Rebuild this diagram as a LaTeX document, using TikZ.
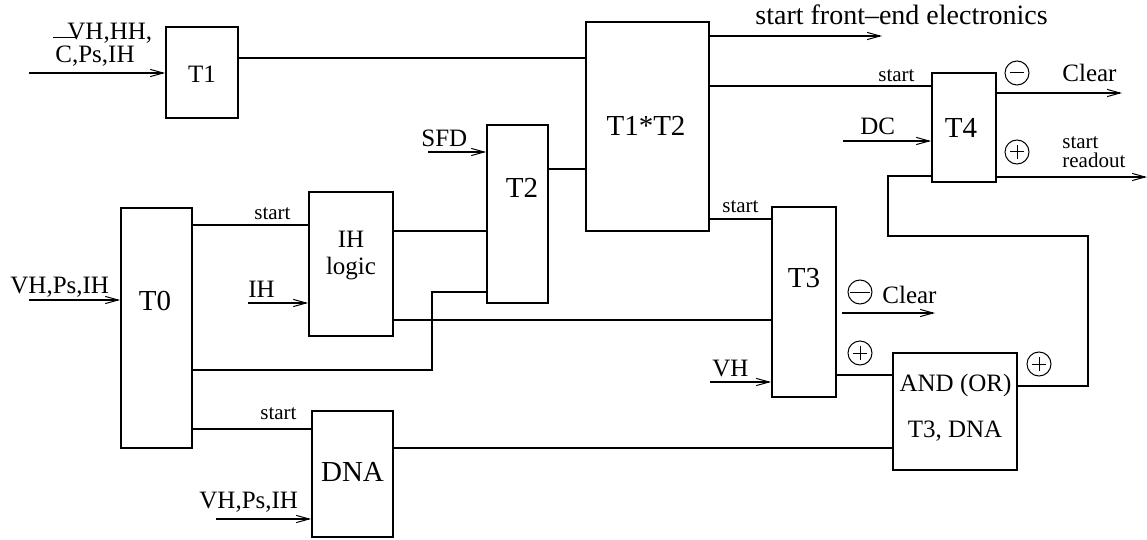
\documentclass[tikz,border=0pt]{standalone}
\usepackage{fontspec}
\setmainfont{Liberation Serif}
\usetikzlibrary{arrows.meta,calc}
\tikzset{
  box/.style={draw, line width=0.9pt, inner sep=0pt},
  wire/.style={line width=0.55pt},
  arr/.style={wire, -{Straight Barb[length=6.5pt,width=3.6pt,line width=0.5pt]}},
  big/.style={font=\fontsize{14.5}{16}\selectfont, inner sep=0pt, anchor=base},
  med/.style={font=\fontsize{12.5}{14}\selectfont, inner sep=0pt, anchor=base west},
  medc/.style={font=\fontsize{12.5}{14}\selectfont, inner sep=0pt, anchor=base},
  sml/.style={font=\fontsize{10.5}{12}\selectfont, inner sep=0pt, anchor=base west},
  sgn/.style={draw, circle, line width=0.5pt, minimum size=12pt, inner sep=0pt},
  minus/.style={sgn, path picture={\draw[line width=0.5pt] ([xshift=-#1]path picture bounding box.center) -- ([xshift=#1]path picture bounding box.center);}},
  plus/.style={sgn, path picture={\draw[line width=0.5pt] ([xshift=-3.6pt]path picture bounding box.center) -- ([xshift=3.6pt]path picture bounding box.center) ([yshift=-3.6pt]path picture bounding box.center) -- ([yshift=3.6pt]path picture bounding box.center);}}
}
\begin{document}
\begin{tikzpicture}[x=0.5pt,y=-0.5pt]
\useasboundingbox (0,0) rectangle (1147,540);
% boxes
\node[box, minimum width=36pt, minimum height=45.5pt] (t1) at (202,72.5) {};
\node[box, minimum width=61.5pt, minimum height=104.5pt] (t12) at (647.5,126.5) {};
\node[box, minimum width=30.5pt, minimum height=89pt] (t2) at (517.5,214) {};
\node[box, minimum width=35.5pt, minimum height=120pt] (t0) at (156.5,328) {};
\node[box, minimum width=42pt, minimum height=72pt] (ih) at (351,264) {};
\node[box, minimum width=32pt, minimum height=95pt] (t3) at (804,302) {};
\node[box, minimum width=32pt, minimum height=54.5pt] (t4) at (964,127.5) {};
\node[box, minimum width=40.5pt, minimum height=63pt] (dna) at (352.5,474) {};
\node[box, minimum width=62pt, minimum height=58.5pt] (and) at (955,411.5) {};
% box labels
\node[medc] (t1l) at (202,83) {T1};
\node[big] (t12l) at (646,136) {T1*T2};
\node[big] (t2l) at (522,198) {T2};
\node[big] (t0l) at (155,310) {T0};
\node[medc] (ihl1) at (351,248) {IH};
\node[medc] (ihl2) at (351,274) {logic};
\node[big] (t3l) at (804,287) {T3};
\node[big] (t4l) at (961,138) {T4};
\node[big] (dnal) at (352.5,481) {DNA};
\node[medc] (andl1) at (955.5,391) {AND (OR)};
\node[medc] (andl2) at (955,437) {T3, DNA};
% free ends
\coordinate (int1) at (29,73);
\coordinate (outfe) at (882,36);
\coordinate (indc) at (843,141);
\coordinate (outc4) at (1122,93);
\coordinate (outro) at (1147,177);
\coordinate (insfd) at (428,152);
\coordinate (inih) at (248,303);
\coordinate (invh3) at (710,382);
\coordinate (outc3) at (935,313);
\coordinate (int0) at (29,300);
\coordinate (indna) at (216,519);
% wires
\draw[arr] (int1) -- (t1.west |- int1);
\draw[wire] (t1.east |- 0,58) -- (t12.west |- 0,58);
\draw[arr] (t12.east |- outfe) -- (outfe);
\draw[wire] (t12.east |- 0,86) -- (t4.west |- 0,86);
\draw[arr] (indc) -- (t4.west |- indc);
\draw[arr] (t4.east |- outc4) -- (outc4);
\draw[arr] (t4.east |- outro) -- (outro);
\draw[wire] (and.east |- 0,386) -- (1088,386) -- (1088,236) -- (888,236) -- (888,176) -- (t4.west |- 0,176);
\draw[wire] (t2.east |- 0,169) -- (t12.west |- 0,169);
\draw[arr] (insfd) -- (t2.west |- insfd);
\draw[wire] (ih.east |- 0,231) -- (t2.west |- 0,231);
\draw[wire] (t0.east |- 0,370) -- (432,370) -- (432,292) -- (t2.west |- 0,292);
\draw[wire] (t0.east |- 0,225) -- (ih.west |- 0,225);
\draw[arr] (inih) -- (ih.west |- inih);
\draw[wire] (ih.east |- 0,320) -- (t3.west |- 0,320);
\draw[wire] (t12.east |- 0,219) -- (t3.west |- 0,219);
\draw[arr] (invh3) -- (t3.west |- invh3);
\draw[arr] ($(t3.east |- outc3)+(5,0)$) -- (outc3);
\draw[wire] (t3.east |- 0,375) -- (and.west |- 0,375);
\draw[arr] (int0) -- (t0.west |- int0);
\draw[wire] (t0.east |- 0,429) -- (dna.west |- 0,429);
\draw[arr] (indna) -- (dna.west |- indna);
\draw[wire] (dna.east |- 0,448) -- (and.west |- 0,448);
% signs
\node[minus=3.6pt] (m4) at (1017,73) {};
\node[plus] (p4) at (1017,152) {};
\node[minus=5pt] (m3) at (860,292) {};
\node[plus] (p3) at (860,353) {};
\node[plus] (pa) at (1039,364) {};
% texts
\node[med] (lab1a) at (67,40) {VH,HH,};
\node[med] (lab1b) at (55,63) {\rlap{\hspace{-0.1em}\raisebox{0.98em}{\rule{0.92em}{0.5pt}}}C,Ps,IH};
\node[big, anchor=base west, font=\fontsize{14}{16}\selectfont] (labfe) at (755,25) {start front--end electronics};
\node[sml] (labs4) at (878,82) {start};
\node[med] (labdc) at (860,135) {DC};
\node[med] (labc4) at (1062,82) {Clear};
\node[sml] (labsr1) at (1062,149) {start};
\node[sml] (labsr2) at (1062,168) {readout};
\node[med] (labsfd) at (421,147) {SFD};
\node[sml] (labs3) at (722,213) {start};
\node[med] (labc3) at (882,303) {Clear};
\node[med] (labvh3) at (712,376) {VH};
\node[med] (lab0) at (10,293) {VH,Ps,IH};
\node[sml] (labs0) at (254,220) {start};
\node[med] (labih) at (248,298) {IH};
\node[sml] (labsd) at (260,419) {start};
\node[med] (labdna) at (199,508) {VH,Ps,IH};
\end{tikzpicture}
\end{document}
